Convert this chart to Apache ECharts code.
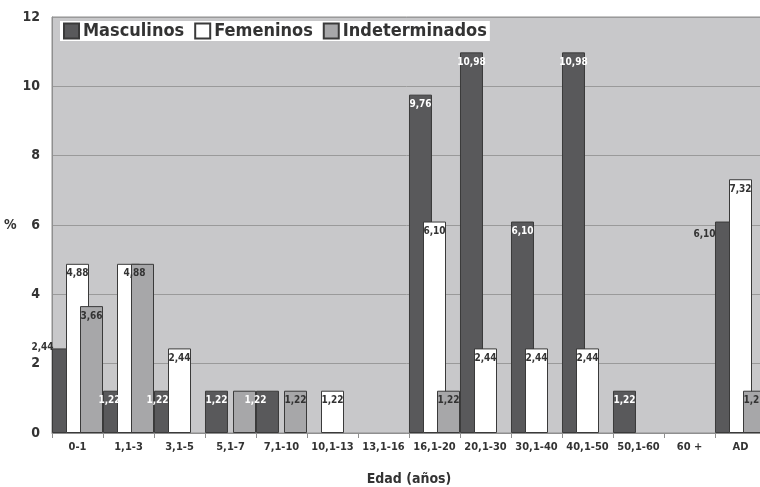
<!DOCTYPE html>
<html>
<head>
<meta charset="utf-8">
<script src="https://cdn.jsdelivr.net/npm/echarts@6/dist/echarts.min.js"></script>
<style>
  html, body { margin: 0; padding: 0; background: #fff; }
  #container { width: 760px; height: 487px; }
</style>
</head>
<body>
<div id="container"></div>
<script>
var categories = ['0-1', '1,1-3', '3,1-5', '5,1-7', '7,1-10', '10,1-13', '13,1-16',
                  '16,1-20', '20,1-30', '30,1-40', '40,1-50', '50,1-60', '60 +', 'AD'];
var masculinos     = [2.44, 1.22, 1.22, 1.22, 1.22, 0, 0, 9.76, 10.98, 6.10, 10.98, 1.22, 0, 6.10];
var femeninos      = [4.88, 4.88, 2.44, 0, 0, 1.22, 0, 6.10, 2.44, 2.44, 2.44, 0, 0, 7.32];
var indeterminados = [3.66, 4.88, 0, 1.22, 1.22, 0, 0, 1.22, 0, 0, 0, 0, 0, 1.22];

var font = "'Liberation Sans Narrow', 'DejaVu Sans Condensed', Arial, sans-serif";

// label nudges, the original puts some labels off the bar
var labelTweak = {
    'Masculinos': {0: {offset: [-21, -11], color: '#333'}, 1: {offset: [-5, 0]}, 2: {offset: [-8, 0]},
                   4: {offset: [-12, 0]}, 13: {offset: [-22, 3], color: '#333'}},
    'Femeninos': {1: {offset: [6, 0]}},
    'Indeterminados': {1: {show: false}, 3: {show: false}}
};

function fmt(v) {
    return v.toFixed(2).replace('.', ',');
}

function makeData(name, values) {
    var tw = labelTweak[name] || {};
    return values.map(function (v, i) {
        if (!v) return '-';
        var item = {value: v};
        if (i in tw) item.label = tw[i];
        return item;
    });
}

function makeSeries(name, values, color, textColor) {
    return {
        name: name,
        type: 'bar',
        barWidth: 23,
        barGap: '-39.1%',
        itemStyle: {color: color, borderColor: '#3a3a3a', borderWidth: 1},
        label: {
            show: true,
            position: 'insideTop',
            distance: 5,
            color: textColor,
            fontFamily: font,
            fontWeight: 'bold',
            fontSize: 10,
            formatter: function (p) { return fmt(p.value); }
        },
        emphasis: {disabled: true},
        data: makeData(name, values)
    };
}

var myChart = echarts.init(document.getElementById('container'));

var option = {
    animation: false,
    backgroundColor: '#fff',
    grid: {
        left: 52,
        top: 17,
        width: 714,
        height: 416,
        outerBoundsMode: 'none',
        show: true,
        backgroundColor: '#c8c8ca',
        borderColor: '#8f8f8f',
        borderWidth: 1
    },
    legend: {
        left: 60,
        top: 21,
        backgroundColor: '#fff',
        padding: [1, 3, 1, 3],
        itemWidth: 15,
        itemHeight: 15,
        itemGap: 10,
        icon: 'rect',
        textStyle: {fontFamily: font, fontWeight: 'bold', fontSize: 18, color: '#333', padding: [0, 0, 0, -1]},
        data: ['Masculinos', 'Femeninos', 'Indeterminados']
    },
    xAxis: {
        type: 'category',
        data: categories,
        name: 'Edad (años)',
        nameLocation: 'middle',
        nameGap: 39,
        nameTextStyle: {fontFamily: font, fontWeight: 'bold', fontSize: 14, color: '#333'},
        axisLine: {lineStyle: {color: '#8f8f8f'}},
        axisTick: {show: true, length: 5, lineStyle: {color: '#8f8f8f'}},
        axisLabel: {interval: 0, fontFamily: font, fontWeight: 'bold', fontSize: 11, color: '#333', margin: 9}
    },
    yAxis: {
        type: 'value',
        min: 0,
        max: 12,
        interval: 2,
        name: '%',
        nameLocation: 'middle',
        nameRotate: 0,
        nameGap: 32,
        nameTextStyle: {fontFamily: font, fontWeight: 'bold', fontSize: 14, color: '#333'},
        axisLine: {show: true, lineStyle: {color: '#8f8f8f'}},
        axisTick: {show: false},
        axisLabel: {fontFamily: font, fontWeight: 'bold', fontSize: 14, color: '#333', margin: 12},
        splitLine: {lineStyle: {color: '#9a9a9a'}}
    },
    series: [
        makeSeries('Masculinos', masculinos, '#59595b', '#fff'),
        makeSeries('Femeninos', femeninos, '#ffffff', '#333'),
        makeSeries('Indeterminados', indeterminados, '#a7a7a9', '#333')
    ]
};

myChart.setOption(option);
</script>
</body>
</html>
